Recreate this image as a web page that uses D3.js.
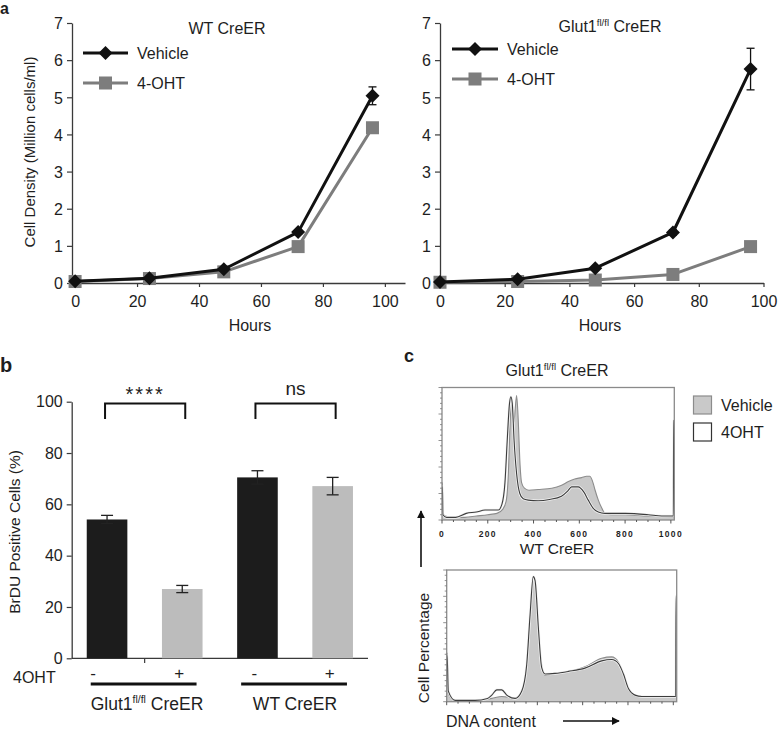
<!DOCTYPE html>
<html><head><meta charset="utf-8">
<script src="https://cdn.jsdelivr.net/npm/d3@7"></script>
<style>
body{margin:0;background:#fff}
svg{display:block}
text{font-family:"Liberation Sans",Arial,Helvetica,sans-serif;fill:#1e1e1e}
</style>
</head><body>
<svg id="chart" width="778" height="730"></svg>
<script>
// ---------- Panel a data ----------
const hours = [0, 24, 48, 72, 96];
const wtVehicle = [0.05, 0.13, 0.37, 1.37, 5.04];
const wtVehicleErr = [0.02, 0.02, 0.04, 0.06, 0.24];
const wtOHT = [0.04, 0.12, 0.30, 0.98, 4.18];
const wtOHTErr = [0.02, 0.02, 0.03, 0.05, 0.12];
const glutVehicle = [0.03, 0.10, 0.40, 1.36, 5.76];
const glutVehicleErr = [0.02, 0.03, 0.04, 0.07, 0.56];
const glutOHT = [0.02, 0.04, 0.08, 0.23, 0.98];
const glutOHTErr = [0.01, 0.02, 0.02, 0.04, 0.05];
const densityTicks = [0, 1, 2, 3, 4, 5, 6, 7];
const hourTicks = [0, 20, 40, 60, 80, 100];
const seriesNames = ["Vehicle", "4-OHT"];

// ---------- Panel b data ----------
const brduTreatment = ["-", "+", "-", "+"];
const brduValues = [54.1, 27.0, 70.5, 67.1];
const brduErr = [1.6, 1.4, 2.6, 3.4];
const brduTicks = [0, 20, 40, 60, 80, 100];
const sigLabels = ["****", "ns"];

// ---------- Panel c data (DNA content channel, % of max) ----------
const histTicks = [0, 200, 400, 600, 800, 1000];
const histNames = ["Vehicle", "4OHT"];
const topVehicle = [[0,28],[2,28],[4,5],[15,3],[40,2],[100,2],[150,3],[200,4],[240,5],[265,8],[280,14],[290,35],[297,70],[303,88],[309,80],[314,74],[320,84],[326,94],[333,76],[340,45],[348,28],[360,24],[380,22.5],[420,23],[480,24],[520,26],[552,29],[580,31],[610,32],[632,33],[646,33],[660,28],[668,23],[683,15],[698,9],[712,5],[740,4],[800,4],[900,3],[1000,2.5],[1011,2.5],[1012,28],[1015,28]];
const topOHT = [[0,25],[2,25],[4,4],[20,2],[60,2],[106,5],[150,6],[188,7.5],[246,7.5],[262,12],[275,28],[285,60],[295,88],[301,93],[307,88],[315,60],[326,35],[340,20],[355,16],[377,15],[420,14.5],[470,15.5],[522,18],[550,22],[566,25],[595,25],[620,21],[639,15],[660,9],[683,6],[712,5],[800,5],[901,4],[960,3],[1011,3],[1012,75],[1015,75]];
const botVehicle = [[0,37],[2,37],[7,6],[37,0.5],[125,1],[199,2.5],[243,4],[302,3],[331,8],[353,28],[368,66],[382,94],[390,91],[405,53],[419,28],[434,20],[478,21.5],[537,23],[610,26.5],[684,33],[728,34],[758,30],[780,20],[802,9],[831,4.5],[861,4],[1008,4],[1011,4],[1012,81],[1015,81]];
const botOHT = [[0,35],[2,35],[7,8],[37,1],[125,1],[180,2.5],[199,5],[221,9],[243,9],[265,5],[302,2.5],[331,8],[353,28],[368,66],[382,95],[390,92],[405,55],[419,26],[434,21],[478,21.5],[537,23],[610,25.5],[684,31],[728,32],[758,29],[780,21],[802,10],[831,5],[861,4],[1008,4],[1011,4],[1012,80],[1015,80]];

const svg = d3.select("#chart");
const AX = "#3a3a3a";

function styleAxis(g, fs) {
  g.selectAll("path.domain").attr("stroke", AX).attr("stroke-width", 1.3);
  g.selectAll(".tick line").attr("stroke", AX).attr("stroke-width", 1.2);
  g.selectAll(".tick text").attr("font-size", fs).attr("fill", "#1e1e1e")
    .attr("font-family", '"Liberation Sans",Arial,sans-serif');
}

function supLabel(sel, x, y, fs, anchor) {
  const t = sel.append("text").attr("x", x).attr("y", y).attr("font-size", fs)
    .attr("text-anchor", anchor || "middle");
  t.append("tspan").text("Glut1");
  t.append("tspan").attr("font-size", fs * 0.6).attr("dy", -fs * 0.38).text("fl/fl");
  t.append("tspan").attr("dy", fs * 0.38).text(" CreER");
  return t;
}

function diamond(g, cx, cy, r, fill) {
  g.append("path").attr("d", `M${cx},${cy - r}L${cx + r},${cy}L${cx},${cy + r}L${cx - r},${cy}Z`)
    .attr("fill", fill);
}
function square(g, cx, cy, s, fill) {
  g.append("rect").attr("x", cx - s / 2).attr("y", cy - s / 2).attr("width", s).attr("height", s).attr("fill", fill);
}

// ---------- Panel a ----------
function growthPanel(cfg) {
  const g = svg.append("g");
  const x = d3.scaleLinear().domain(cfg.xDomain).range(cfg.xRange);
  const y = d3.scaleLinear().domain([0, 7]).range([283, 23]);
  const xa = g.append("g").attr("transform", "translate(0,283)")
    .call(d3.axisBottom(x).tickValues(hourTicks).tickFormat(d3.format("d")).tickSize(4).tickSizeOuter(0).tickPadding(9));
  styleAxis(xa, 16);
  xa.selectAll(".tick").filter(d => d === 0).select("line").remove();
  const ya = g.append("g").attr("transform", `translate(${cfg.xRange[0]},0)`)
    .call(d3.axisLeft(y).tickValues(densityTicks).tickFormat(d3.format("d")).tickSize(5).tickSizeOuter(0).tickPadding(4));
  styleAxis(ya, 16);
  ya.selectAll(".tick text").attr("dy", "0.36em");

  const series = [
    {v: cfg.veh, e: cfg.vehErr, color: "#111", mark: "d"},
    {v: cfg.oht, e: cfg.ohtErr, color: "#7d7d7d", mark: "s"}
  ];
  [series[1], series[0]].forEach(s => {
    const line = d3.line().x((d, i) => x(hours[i])).y(d => y(d));
    g.append("path").datum(s.v).attr("d", line).attr("fill", "none")
      .attr("stroke", s.color).attr("stroke-width", 3).attr("stroke-linejoin", "round");
    s.v.forEach((v, i) => {
      const cx = x(hours[i]);
      const y1 = y(v + s.e[i]), y2 = y(v - s.e[i]);
      g.append("line").attr("x1", cx).attr("x2", cx).attr("y1", y1).attr("y2", y2)
        .attr("stroke", s.color).attr("stroke-width", 1.3);
      [y1, y2].forEach(yy => g.append("line").attr("x1", cx - 4).attr("x2", cx + 4)
        .attr("y1", yy).attr("y2", yy).attr("stroke", s.color).attr("stroke-width", 1.3));
      if (s.mark === "d") diamond(g, cx, y(v), 7, s.color);
      else square(g, cx, y(v), 13, s.color);
    });
  });
  const lg = cfg.legend;
  series.forEach((s, i) => {
    const ly = lg.y + i * 30;
    g.append("line").attr("x1", lg.x0).attr("x2", lg.x1).attr("y1", ly).attr("y2", ly)
      .attr("stroke", s.color).attr("stroke-width", 3);
    const cx = (lg.x0 + lg.x1) / 2;
    if (s.mark === "d") diamond(g, cx, ly, 7, s.color); else square(g, cx, ly, 13, s.color);
    g.append("text").attr("x", lg.x1 + 9).attr("y", ly + 6).attr("font-size", 16).text(seriesNames[i]);
  });
  g.append("text").attr("x", cfg.hoursX).attr("y", 331).attr("font-size", 16)
    .attr("text-anchor", "middle").text("Hours");
  return g;
}

const gA1 = growthPanel({
  xDomain: [-1, 106.5], xRange: [72, 405],
  veh: wtVehicle, vehErr: wtVehicleErr, oht: wtOHT, ohtErr: wtOHTErr,
  legend: {x0: 83, x1: 128, y: 53},
  hoursX: 250
});
gA1.append("text").attr("x", 227).attr("y", 34).attr("font-size", 16).attr("text-anchor", "middle").text("WT CreER");
gA1.append("text").attr("transform", "translate(35,152) rotate(-90)").attr("font-size", 15)
  .attr("text-anchor", "middle").text("Cell Density (Million cells/ml)");

const gA2 = growthPanel({
  xDomain: [0, 100], xRange: [440, 763.5],
  veh: glutVehicle, vehErr: glutVehicleErr, oht: glutOHT, ohtErr: glutOHTErr,
  legend: {x0: 452, x1: 498, y: 49},
  hoursX: 600
});
supLabel(gA2, 610, 32, 16);

svg.append("text").attr("x", 0).attr("y", 14).attr("font-size", 16).attr("font-weight", "bold").text("a");

// ---------- Panel b ----------
const gB = svg.append("g");
const xb = d3.scaleBand().domain(d3.range(brduValues.length)).range([71.7, 368]).paddingInner(0.46).paddingOuter(0.2);
const yb = d3.scaleLinear().domain([0, 100]).range([658.3, 401.7]);
const yba = gB.append("g").attr("transform", "translate(71.7,0)")
  .call(d3.axisLeft(yb).tickValues(brduTicks).tickSize(5).tickSizeOuter(0).tickPadding(4));
styleAxis(yba, 16);
gB.append("line").attr("x1", 71.7).attr("x2", 368).attr("y1", 658.3).attr("y2", 658.3)
  .attr("stroke", AX).attr("stroke-width", 1.3);
gB.append("line").attr("x1", (xb(0) + xb.bandwidth() + xb(1)) / 2).attr("x2", (xb(0) + xb.bandwidth() + xb(1)) / 2)
  .attr("y1", 658.3).attr("y2", 663).attr("stroke", AX).attr("stroke-width", 1.2);
const barColors = ["#1c1c1c", "#bcbcbc", "#1c1c1c", "#bcbcbc"];
brduValues.forEach((v, i) => {
  gB.append("rect").attr("x", xb(i)).attr("y", yb(v)).attr("width", xb.bandwidth())
    .attr("height", yb(0) - yb(v)).attr("fill", barColors[i]);
});
brduValues.forEach((v, i) => {
  const cx = xb(i) + xb.bandwidth() / 2;
  const y1 = yb(v + brduErr[i]), y2 = yb(v - brduErr[i]);
  gB.append("line").attr("x1", cx).attr("x2", cx).attr("y1", y1).attr("y2", y2).attr("stroke", "#222").attr("stroke-width", 1.3);
  [y1, y2].forEach(yy => gB.append("line").attr("x1", cx - 6).attr("x2", cx + 6).attr("y1", yy).attr("y2", yy)
    .attr("stroke", "#222").attr("stroke-width", 1.3));
});
sigLabels.forEach((lab, k) => {
  const a = xb(2 * k) + xb.bandwidth() / 2 - 2, b = xb(2 * k + 1) + xb.bandwidth() / 2 + 3;
  gB.append("path").attr("d", `M${a},${419}L${a},${403.5}L${b},${403.5}L${b},${419}`)
    .attr("fill", "none").attr("stroke", "#111").attr("stroke-width", 2);
  gB.append("text").attr("x", (a + b) / 2).attr("y", lab === "ns" ? 395 : 401)
    .attr("font-size", lab === "ns" ? 19 : 20)
    .attr("text-anchor", "middle").attr("letter-spacing", lab === "ns" ? 0 : 2).text(lab);
});
gB.append("text").attr("x", 13).attr("y", 683).attr("font-size", 16).text("4OHT");
brduTreatment.forEach((t, i) => {
  const cx = xb(i) + xb.bandwidth() / 2 - (i === 0 ? 14 : 3);
  gB.append("text").attr("x", cx).attr("y", 679).attr("font-size", 17).attr("text-anchor", "middle").text(t);
});
[0, 1].forEach(k => {
  const a = xb(2 * k) + 4, b = xb(2 * k + 1) + xb.bandwidth() - 6;
  gB.append("line").attr("x1", a).attr("x2", b).attr("y1", 684).attr("y2", 684).attr("stroke", "#111").attr("stroke-width", 3.2);
});
supLabel(gB, 147, 710, 17.5);
gB.append("text").attr("x", 295).attr("y", 710).attr("font-size", 17.5).attr("text-anchor", "middle").text("WT CreER");
gB.append("text").attr("transform", "translate(20,532) rotate(-90)").attr("font-size", 15.5)
  .attr("text-anchor", "middle").text("BrDU Positive Cells (%)");
svg.append("text").attr("x", 0).attr("y", 372).attr("font-size", 20).attr("font-weight", "bold").text("b");

// ---------- Panel c ----------
const gC = svg.append("g");
svg.append("text").attr("x", 404).attr("y", 362).attr("font-size", 18).attr("font-weight", "bold").text("c");
supLabel(gC, 557, 376, 16);

function histogram(box, vehicle, oht, showLabels) {
  const g = gC.append("g");
  const x = d3.scaleLinear().domain([0, 1015]).range([box.x0, box.x1]);
  const y = d3.scaleLinear().domain([0, 100]).range([box.y1, box.y0]);
  const area = d3.area().x(d => x(d[0])).y0(y(0)).y1(d => y(d[1])).curve(d3.curveMonotoneX);
  const line = d3.line().x(d => x(d[0])).y(d => y(d[1])).curve(d3.curveMonotoneX);
  g.append("path").datum(vehicle).attr("d", area).attr("fill", "#c9c9c9");
  g.append("path").datum(vehicle).attr("d", line).attr("fill", "none").attr("stroke", "#8c8c8c").attr("stroke-width", 1.1);
  g.append("path").datum(oht).attr("d", line).attr("fill", "none").attr("stroke", "#f4f4f4").attr("stroke-width", 2.6);
  g.append("path").datum(oht).attr("d", line).attr("fill", "none").attr("stroke", "#3c3c3c").attr("stroke-width", 1.1);
  g.append("rect").attr("x", box.x0).attr("y", box.y0).attr("width", box.x1 - box.x0).attr("height", box.y1 - box.y0)
    .attr("fill", "none").attr("stroke", "#8a8a8a").attr("stroke-width", 1.3);
  d3.range(0, 1001, 50).forEach(v => {
    const major = v % 200 === 0;
    g.append("line").attr("x1", x(v)).attr("x2", x(v)).attr("y1", box.y1).attr("y2", box.y1 + (major ? 3.5 : 2))
      .attr("stroke", "#555").attr("stroke-width", 1);
  });
  d3.range(0, 101, 4).forEach(v => {
    const major = v % 20 === 0;
    g.append("line").attr("x1", box.x0).attr("x2", box.x0 - (major ? 3.5 : 2)).attr("y1", y(v)).attr("y2", y(v))
      .attr("stroke", "#777").attr("stroke-width", 0.8);
  });
  if (showLabels) {
    histTicks.forEach(v => g.append("text").attr("x", x(v)).attr("y", 537).attr("font-size", 8.5)
      .attr("font-weight", "bold").attr("letter-spacing", 1.3).attr("text-anchor", "middle").attr("fill", "#333").text(v));
  }
}
histogram({x0: 442, x1: 674.3, y0: 387.5, y1: 520}, topVehicle, topOHT, true);
histogram({x0: 446.7, x1: 676.7, y0: 570, y1: 701.7}, botVehicle, botOHT, false);
gC.append("text").attr("x", 557).attr("y", 554).attr("font-size", 15.5).attr("text-anchor", "middle").text("WT CreER");

histNames.forEach((n, i) => {
  const yy = 396 + i * 27;
  gC.append("rect").attr("x", 693.5).attr("y", yy).attr("width", 18).attr("height", 18)
    .attr("fill", i === 0 ? "#c9c9c9" : "#fff").attr("stroke", i === 0 ? "#8c8c8c" : "#333").attr("stroke-width", 1.2);
  gC.append("text").attr("x", 721).attr("y", yy + 15).attr("font-size", 16).text(n);
});

svg.append("defs").append("marker").attr("id", "ah").attr("viewBox", "0 0 10 10").attr("refX", 9).attr("refY", 5)
  .attr("markerWidth", 5).attr("markerHeight", 5).attr("orient", "auto")
  .append("path").attr("d", "M0,0L10,5L0,10Z").attr("fill", "#111");
gC.append("line").attr("x1", 421).attr("x2", 421).attr("y1", 567).attr("y2", 511)
  .attr("stroke", "#111").attr("stroke-width", 1.6).attr("marker-end", "url(#ah)");
gC.append("line").attr("x1", 563).attr("x2", 619).attr("y1", 721).attr("y2", 721)
  .attr("stroke", "#111").attr("stroke-width", 1.6).attr("marker-end", "url(#ah)");
gC.append("text").attr("transform", "translate(429,648) rotate(-90)").attr("font-size", 15.5)
  .attr("text-anchor", "middle").text("Cell Percentage");
gC.append("text").attr("x", 446).attr("y", 727).attr("font-size", 16).text("DNA content");
</script>
</body></html>
